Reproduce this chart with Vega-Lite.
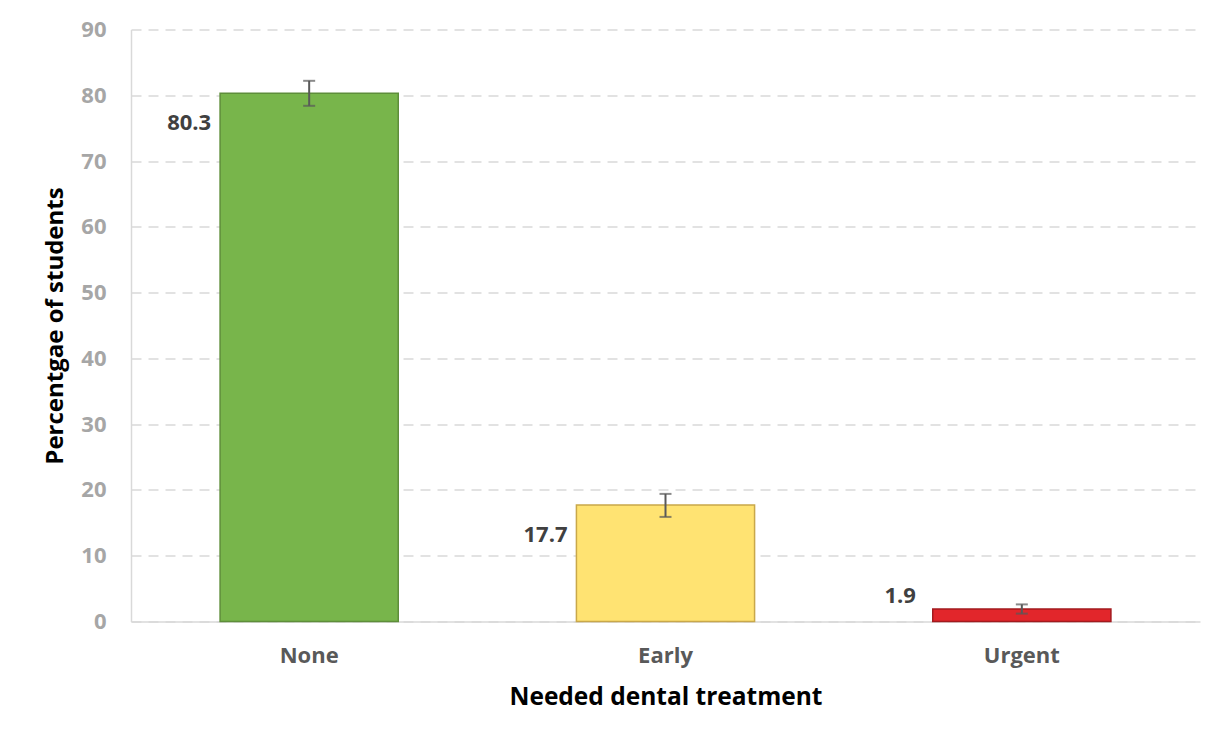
{
  "$schema": "https://vega.github.io/schema/vega-lite/v6.json",
  "width": 1069,
  "height": 592,
  "autosize": {"type": "none"},
  "padding": {"left": 131, "top": 29.5, "right": 29, "bottom": 126.5},
  "background": "white",
  "config": {
    "view": {"stroke": null},
    "font": "Open Sans"
  },
  "data": {
    "values": [
      {"treatment": "None", "value": 80.3, "lo": 78.4, "hi": 82.2},
      {"treatment": "Early", "value": 17.7, "lo": 15.9, "hi": 19.4},
      {"treatment": "Urgent", "value": 1.9, "lo": 1.2, "hi": 2.6}
    ]
  },
  "encoding": {
    "x": {
      "field": "treatment",
      "type": "nominal",
      "sort": ["None", "Early", "Urgent"],
      "scale": {"paddingInner": 0.5, "paddingOuter": 0.25},
      "axis": {
        "title": "Needed dental treatment",
        "labelAngle": 0,
        "labelFont": "Open Sans",
        "labelFontSize": 22,
        "labelFontWeight": "bold",
        "labelColor": "#595959",
        "labelPadding": 24,
        "ticks": false,
        "domainColor": "#d9d9d9",
        "domainWidth": 1.5,
        "titleFont": "Open Sans",
        "titleFontSize": 24.5,
        "titleFontWeight": "bold",
        "titleColor": "#000000",
        "titlePadding": 19
      }
    }
  },
  "layer": [
    {
      "mark": {"type": "bar", "strokeWidth": 1.5},
      "encoding": {
        "y": {
          "field": "value",
          "type": "quantitative",
          "scale": {"domain": [0, 90], "nice": false},
          "axis": {
            "title": "Percentgae of students",
            "values": [0, 10, 20, 30, 40, 50, 60, 70, 80, 90],
            "labelFont": "Open Sans",
            "labelFontSize": 22,
            "labelFontWeight": "bold",
            "labelColor": "#a6a6a6",
            "labelPadding": 25,
            "ticks": false,
            "domainColor": "#d9d9d9",
            "domainWidth": 1.5,
            "gridColor": "#d9d9d9",
            "gridDash": [10, 7],
            "gridWidth": 1.5,
            "titleFont": "Open Sans",
            "titleFontSize": 24,
            "titleFontWeight": "bold",
            "titleColor": "#000000",
            "titlePadding": 13
          }
        },
        "color": {
          "field": "treatment",
          "type": "nominal",
          "scale": {"domain": ["None", "Early", "Urgent"], "range": ["#78b54b", "#ffe372", "#e2262b"]},
          "legend": null
        },
        "stroke": {
          "field": "treatment",
          "type": "nominal",
          "scale": {"domain": ["None", "Early", "Urgent"], "range": ["#5e8e3a", "#c9a84a", "#a31a1e"]},
          "legend": null
        }
      }
    },
    {
      "mark": {"type": "rule", "color": "#595959", "strokeWidth": 2},
      "encoding": {
        "y": {"field": "lo", "type": "quantitative"},
        "y2": {"field": "hi"}
      }
    },
    {
      "mark": {"type": "tick", "color": "#595959", "thickness": 2, "size": 12},
      "encoding": {"y": {"field": "lo", "type": "quantitative"}}
    },
    {
      "mark": {"type": "tick", "color": "#595959", "thickness": 2, "size": 12},
      "encoding": {"y": {"field": "hi", "type": "quantitative"}}
    },
    {
      "transform": [{"filter": "datum.value > 10"}],
      "mark": {"type": "text", "align": "right", "baseline": "middle", "dx": -98, "dy": 30, "font": "Open Sans", "fontSize": 22, "fontWeight": "bold", "color": "#404040"},
      "encoding": {
        "y": {"field": "value", "type": "quantitative"},
        "text": {"field": "value", "type": "quantitative", "format": ".1f"}
      }
    },
    {
      "transform": [{"filter": "datum.value <= 10"}],
      "mark": {"type": "text", "align": "right", "baseline": "middle", "dx": -106, "dy": -13, "font": "Open Sans", "fontSize": 22, "fontWeight": "bold", "color": "#404040"},
      "encoding": {
        "y": {"field": "value", "type": "quantitative"},
        "text": {"field": "value", "type": "quantitative", "format": ".1f"}
      }
    }
  ]
}
